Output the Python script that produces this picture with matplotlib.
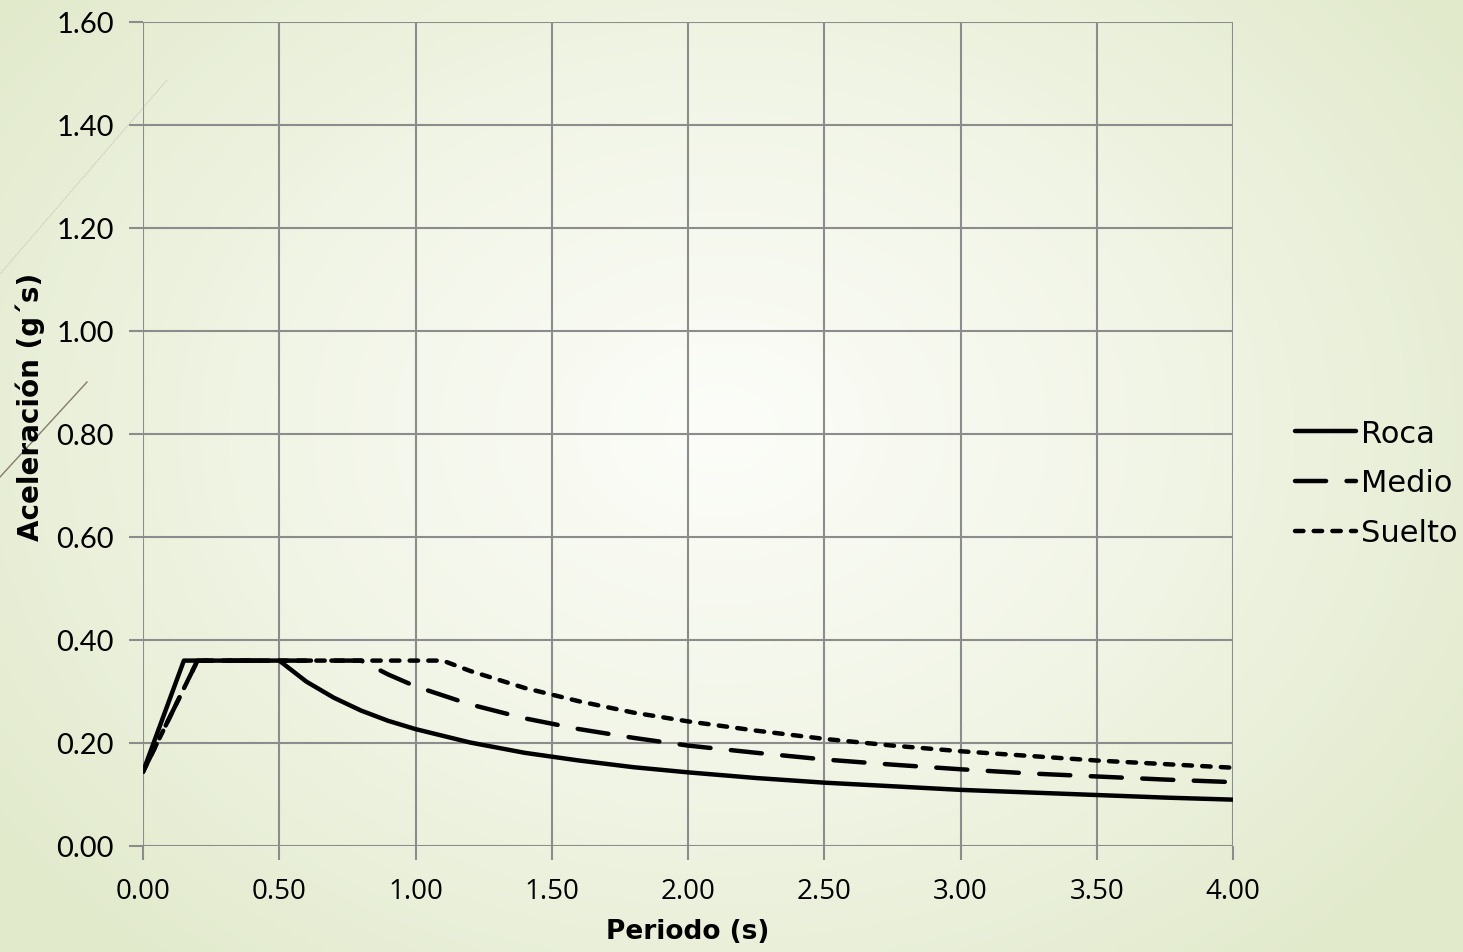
import numpy as np
import matplotlib
matplotlib.use("Agg")
import matplotlib.pyplot as plt
from matplotlib.colors import LinearSegmentedColormap

# ---- data ----
periodo_roca = [0.0, 0.15, 0.2, 0.3, 0.4, 0.5, 0.6, 0.7, 0.8, 0.9, 1.0, 1.2, 1.4, 1.6, 1.8,
                2.0, 2.25, 2.5, 2.75, 3.0, 3.25, 3.5, 3.75, 4.0]
roca = [0.144, 0.36, 0.36, 0.36, 0.36, 0.36, 0.319, 0.288, 0.263, 0.243, 0.227, 0.201, 0.181,
        0.166, 0.153, 0.143, 0.132, 0.123, 0.116, 0.109, 0.104, 0.099, 0.094, 0.090]

periodo_medio = [0.0, 0.2, 0.3, 0.4, 0.5, 0.6, 0.7, 0.8, 0.9, 1.0, 1.2, 1.4, 1.6, 1.8,
                 2.0, 2.25, 2.5, 2.75, 3.0, 3.25, 3.5, 3.75, 4.0]
medio = [0.144, 0.36, 0.36, 0.36, 0.36, 0.36, 0.36, 0.36, 0.333, 0.310, 0.275, 0.248, 0.227,
         0.210, 0.195, 0.181, 0.168, 0.158, 0.149, 0.141, 0.135, 0.129, 0.124]

periodo_suelto = [0.0, 0.2, 0.3, 0.4, 0.5, 0.6, 0.7, 0.8, 0.9, 1.0, 1.1, 1.2, 1.4, 1.6, 1.8,
                  2.0, 2.25, 2.5, 2.75, 3.0, 3.25, 3.5, 3.75, 4.0]
suelto = [0.144, 0.36, 0.36, 0.36, 0.36, 0.36, 0.36, 0.36, 0.36, 0.36, 0.36, 0.340, 0.307,
          0.281, 0.259, 0.242, 0.224, 0.208, 0.195, 0.184, 0.175, 0.166, 0.159, 0.152]

xticks = [0.0, 0.5, 1.0, 1.5, 2.0, 2.5, 3.0, 3.5, 4.0]
yticks = [0.0, 0.2, 0.4, 0.6, 0.8, 1.0, 1.2, 1.4, 1.6]
series_names = ["Roca", "Medio", "Suelto"]

W, H = 1463, 953
fig = plt.figure(figsize=(W / 100, H / 100), dpi=100)

# background radial gradient
bg = fig.add_axes([0, 0, 1, 1], zorder=-10)
yy, xx = np.mgrid[0:H, 0:W]
r = np.sqrt(((xx - 720) / 900.0) ** 2 + ((yy - 430) / 700.0) ** 2)
r = np.clip(r, 0, 1)
cmap = LinearSegmentedColormap.from_list("bg", ["#fcfdf9", "#f1f5e6", "#e2eacc"])
bg.imshow(r, cmap=cmap, aspect="auto", extent=[0, W, H, 0], vmin=0, vmax=1)
bg.set_xlim(0, W)
bg.set_ylim(H, 0)
bg.axis("off")
# decorative theme lines
bg.plot([87, 0], [383, 478], color="#857c6e", lw=1.0)
bg.plot([167, 0], [81, 275], color="#c4c4b4", lw=0.8, ls=(0, (1, 1)))

ax = fig.add_axes([143 / W, 1 - 847 / H, (1233 - 143) / W, (847 - 23) / H])
ax.patch.set_alpha(0)

lw = 3.2
ax.plot(periodo_roca, roca, color="black", lw=lw, solid_capstyle="round",
        solid_joinstyle="round", label=series_names[0], zorder=3)
ax.plot(periodo_medio, medio, color="black", lw=lw, dashes=(7.0, 4.6),
        dash_capstyle="round", label=series_names[1], zorder=3)
ax.plot(periodo_suelto, suelto, color="black", lw=lw, dashes=(1.9, 2.3),
        dash_capstyle="round", label=series_names[2], zorder=3)

ax.set_xlim(0, 4.0)
ax.set_ylim(0, 1.6)
ax.set_xticks(xticks)
ax.set_yticks(yticks)
ax.set_xticklabels([f"{v:.2f}" for v in xticks], fontsize=20, family="Open Sans")
ax.set_yticklabels([f"{v:.2f}" for v in yticks], fontsize=21, family="Lato")
ax.grid(True, color="#8c8c8c", lw=1.5)
for s in ax.spines.values():
    s.set_visible(False)
ax.tick_params(axis="both", length=10, width=1.5, color="#8c8c8c")
ax.tick_params(axis="y", pad=11)
ax.tick_params(axis="x", pad=12)

fig.text(688 / W, 1 - 932 / H, "Periodo (s)", ha="center", va="center",
         fontsize=19, fontweight="bold", family="DejaVu Sans")
fig.text(30 / W, 1 - 407 / H, "Aceleración (g´s)", ha="center", va="center",
         rotation=90, fontsize=20, fontweight="bold", family="DejaVu Sans")

leg = fig.legend(*ax.get_legend_handles_labels(), loc="center left",
                 bbox_to_anchor=(1295 / W, 1 - 484 / H), frameon=False,
                 handlelength=2.0, handletextpad=0.15, labelspacing=0.68,
                 borderpad=0, borderaxespad=0,
                 prop={"family": "DejaVu Sans", "size": 22})
fig.savefig("out.png", dpi=100)
